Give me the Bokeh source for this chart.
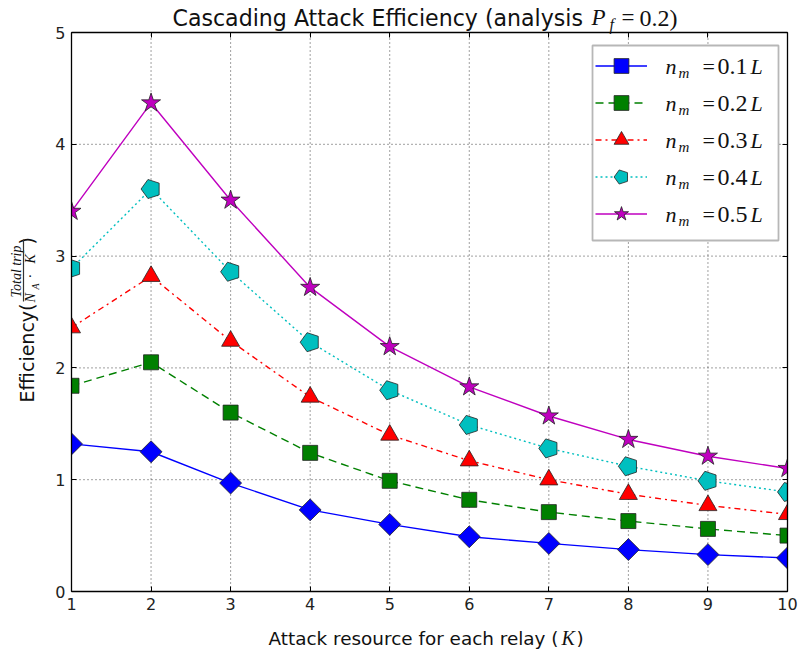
import math
from bokeh.plotting import figure
from bokeh.models import (Label, Legend, LegendItem, LinearAxis, FixedTicker,
                          Range1d, BoxAnnotation)
from bokeh.embed import file_html
from bokeh.resources import INLINE

# ---------------- data ----------------
K = [1, 2, 3, 4, 5, 6, 7, 8, 9, 10]
eff_01 = [1.32, 1.25, 0.97, 0.73, 0.60, 0.49, 0.43, 0.375, 0.33, 0.30]
eff_02 = [1.84, 2.05, 1.60, 1.24, 0.99, 0.82, 0.71, 0.63, 0.56, 0.50]
eff_03 = [2.36, 2.82, 2.24, 1.74, 1.40, 1.17, 1.00, 0.87, 0.77, 0.69]
eff_04 = [2.89, 3.60, 2.86, 2.23, 1.80, 1.49, 1.28, 1.12, 0.99, 0.89]
eff_05 = [3.40, 4.37, 3.50, 2.72, 2.19, 1.83, 1.57, 1.36, 1.21, 1.10]
legend_values = ["0.1", "0.2", "0.3", "0.4", "0.5"]
x_ticks = [1, 2, 3, 4, 5, 6, 7, 8, 9, 10]
y_ticks = [0, 1, 2, 3, 4, 5]

# ---------------- layout ----------------
W, H = 800, 654
FL, FT, FR, FB = 71, 32, 787, 591   # plot box edges in page pixels
X0, X1 = x_ticks[0], x_ticks[-1]
Y0, Y1 = y_ticks[0], y_ticks[-1]
ux = (FR - FL) / (X1 - X0)
uy = (FB - FT) / (Y1 - Y0)
xr = Range1d(X0 - FL / ux, X1 + (W - FR) / ux)
yr = Range1d(Y0 - (H - FB) / uy, Y1 + FT / uy)

p = figure(width=W, height=H, output_backend="svg", toolbar_location=None,
           x_range=xr, y_range=yr,
           min_border_left=0, min_border_right=0,
           min_border_top=0, min_border_bottom=0,
           x_axis_type=None, y_axis_type=None)
p.title = None
p.background_fill_color = "white"
p.border_fill_color = "white"
p.outline_line_color = None

TICK_FONT = "DejaVu Sans"

def make_axis(ticks, loc, bounds, show_labels):
    ax = LinearAxis(ticker=FixedTicker(ticks=ticks), fixed_location=loc,
                    bounds=bounds)
    ax.major_tick_in = 5
    ax.major_tick_out = 0
    ax.minor_tick_in = 0
    ax.minor_tick_out = 0
    ax.major_tick_line_color = "black"
    ax.axis_line_color = "black"
    ax.axis_line_width = 1.3
    ax.major_label_standoff = 6
    ax.major_label_text_font = TICK_FONT
    ax.major_label_text_font_size = "16px"
    ax.major_label_text_color = "#222222"
    if not show_labels:
        ax.major_label_text_font_size = "0px"
        ax.major_label_text_color = None
        ax.major_label_standoff = 0
    return ax

# grid (dotted) from the tick arrays
p.segment(x0=x_ticks, x1=x_ticks, y0=[Y0] * len(x_ticks),
          y1=[Y1] * len(x_ticks), line_color="black", line_alpha=0.75,
          line_dash="1 3", line_width=1, level="underlay")
p.segment(x0=[X0] * len(y_ticks), x1=[X1] * len(y_ticks), y0=y_ticks,
          y1=y_ticks, line_color="black", line_alpha=0.75,
          line_dash="1 3", line_width=1, level="underlay")

# ---------------- series ----------------
series = [
    dict(y=eff_01, color="#0000ff", dash="solid"),
    dict(y=eff_02, color="#008000", dash="8 5"),
    dict(y=eff_03, color="#ff0000", dash="6 4 2 4"),
    dict(y=eff_04, color="#00bfbf", dash="2 3"),
    dict(y=eff_05, color="#bf00bf", dash="solid"),
]

items = []
for i, s in enumerate(series):
    ln = p.line(K, s["y"], line_color=s["color"], line_width=1.4,
                line_dash=s["dash"])
    common = dict(fill_color=s["color"], line_color="#222222", line_width=0.8)
    if i == 0:
        mk = p.scatter(K, s["y"], marker="square", size=15.5,
                       angle=math.pi / 4, **common)
    elif i == 1:
        mk = p.scatter(K, s["y"], marker="square", size=15, **common)
    elif i == 2:
        mk = p.scatter(K, s["y"], marker="triangle", size=18, **common)
    elif i == 3:
        mk = p.ngon(K, s["y"], radius=10, radius_units="screen", n=5,
                    angle=math.pi / 2, **common)
    else:
        mk = p.scatter(K, s["y"], marker="star", size=20, **common)
    items.append(LegendItem(label=" ", renderers=[ln, mk]))

# white masks so that markers are cut at the plot box edges
p.quad(left=[xr.start], right=[X0], bottom=[yr.start], top=[yr.end],
       fill_color="white", line_color=None)
p.quad(left=[X1], right=[xr.end], bottom=[yr.start], top=[yr.end],
       fill_color="white", line_color=None)

p.add_layout(make_axis(x_ticks, Y0, (X0, X1), True), "below")
p.add_layout(make_axis(y_ticks, X0, (Y0, Y1), True), "left")
p.add_layout(make_axis(x_ticks, Y1, (X0, X1), False), "above")
p.add_layout(make_axis(y_ticks, X1, (Y0, Y1), False), "right")

# legend frame (white box with dark border) drawn separately
p.add_layout(BoxAnnotation(left=592, right=778, top=H - 45, bottom=H - 240,
                           left_units="screen", right_units="screen",
                           top_units="screen", bottom_units="screen",
                           fill_color="white", fill_alpha=1,
                           line_color="#111111", line_width=1.8,
                           level="glyph"))

legend = Legend(items=items, location=(592, H - 235),
                padding=3, spacing=0, glyph_height=37, glyph_width=52,
                label_height=30, label_width=106, label_standoff=15,
                margin=0, border_line_alpha=0, background_fill_alpha=0)
p.add_layout(legend, "center")

# ---------------- texts ----------------
def lab(X, Y, text, font="DejaVu Sans", size=16, style="normal",
        align="left", angle=0.0, color="#111111"):
    p.add_layout(Label(x=X, y=H - Y, x_units="screen", y_units="screen",
                       text=text, text_font=font, text_font_size=f"{size}px",
                       text_font_style=style, text_align=align,
                       text_baseline="middle", angle=angle,
                       text_color=color, level="overlay"))

SERIF = "Liberation Serif"

# legend labels: n_m =0.xL
for i, v in enumerate(legend_values):
    cy = 66 + 37 * i
    lab(665, cy, "n", font=SERIF, size=22, style="italic")
    lab(678, cy + 6, "m", font=SERIF, size=15, style="italic")
    lab(702, cy, "=", font=SERIF, size=22)
    lab(717, cy, v, font=SERIF, size=24)
    lab(750, cy, "L", font=SERIF, size=22, style="italic")

# title
lab(172, 17, "Cascading Attack Efficiency (analysis", size=22.1)
lab(591, 17, "P", font=SERIF, size=23, style="italic")
lab(609, 23.5, "f", font=SERIF, size=16, style="italic")
lab(621, 17, "=", font=SERIF, size=23)
lab(639, 17, "0.2)", font=SERIF, size=24)

# x axis label
lab(268, 637.5, "Attack resource for each relay (", size=18.4)
lab(561, 637, "K", font=SERIF, size=20, style="italic")
lab(576, 637.5, ")", size=18.4)

# y axis label (rotated)
A = math.pi / 2
lab(26.5, 303, "Efficiency(", size=19, align="right", angle=A)
lab(16, 271, "Total trip", font=SERIF, size=14, style="italic",
    align="center", angle=A)
lab(30, 302, "N", font=SERIF, size=14, style="italic", angle=A)
lab(34.5, 289, "A", font=SERIF, size=10, style="italic", angle=A)
lab(30, 278, "\u00b7", font=SERIF, size=14, angle=A)
lab(30, 263, "K", font=SERIF, size=14, style="italic", angle=A)
lab(26.5, 244, ")", size=19, angle=A)
p.add_layout(BoxAnnotation(left=22.4, right=23.6, bottom=H - 301,
                           top=H - 239, left_units="screen",
                           right_units="screen", top_units="screen",
                           bottom_units="screen", fill_color="#333333",
                           fill_alpha=1, line_color=None, level="overlay"))

open("out.html", "w").write(file_html(p, INLINE))
